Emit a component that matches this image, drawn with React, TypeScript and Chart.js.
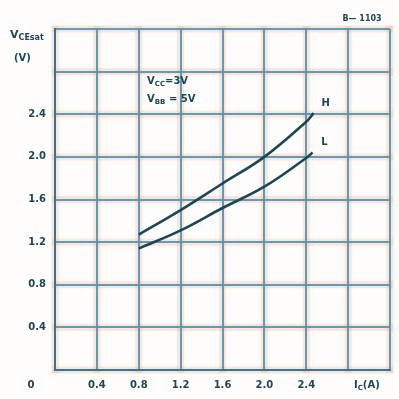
import React, { useEffect, useRef } from "react";
import { Chart, registerables } from "chart.js";

Chart.register(...registerables);

// Axis grid values (both axes run 0 … 3.2 in 0.4 steps)
const xGrid = [0, 0.4, 0.8, 1.2, 1.6, 2.0, 2.4, 2.8, 3.2];
const yGrid = [0, 0.4, 0.8, 1.2, 1.6, 2.0, 2.4, 2.8, 3.2];
const xLabeled = [0.4, 0.8, 1.2, 1.6, 2.0, 2.4];
const yLabeled = [0.4, 0.8, 1.2, 1.6, 2.0, 2.4];

// Collector current Ic (A) and saturation voltage VCE(sat) (V)
const icH = [0.8, 1.2, 1.6, 2.0, 2.4, 2.47];
const vceH = [1.27, 1.5, 1.75, 2.0, 2.33, 2.41];
const icL = [0.8, 1.2, 1.6, 2.0, 2.4, 2.46];
const vceL = [1.14, 1.31, 1.52, 1.72, 1.99, 2.04];
const seriesNames = ["H", "L"];

const INK = "#1d4654";
const GRID = "rgba(78,150,178,0.9)";
const HALO = "rgba(244,165,135,0.28)";
const FONT = "'DejaVu Sans', sans-serif";

const haloPlugin = {
  id: "gridHalo",
  beforeDraw(chart: any) {
    const { ctx, chartArea, scales } = chart;
    ctx.save();
    ctx.strokeStyle = HALO;
    ctx.lineWidth = 7;
    for (const v of xGrid) {
      const x = scales.x.getPixelForValue(v);
      ctx.beginPath();
      ctx.moveTo(x, chartArea.top - 3);
      ctx.lineTo(x, chartArea.bottom + 3);
      ctx.stroke();
    }
    for (const v of yGrid) {
      const y = scales.y.getPixelForValue(v);
      ctx.beginPath();
      ctx.moveTo(chartArea.left - 3, y);
      ctx.lineTo(chartArea.right + 3, y);
      ctx.stroke();
    }
    ctx.restore();
  },
};

function subText(ctx: CanvasRenderingContext2D, x: number, y: number, main: string, sub: string, rest: string, size: number) {
  ctx.textAlign = "left";
  ctx.font = `bold ${size}px ${FONT}`;
  ctx.fillText(main, x, y);
  let cx = x + ctx.measureText(main).width;
  ctx.font = `bold ${Math.round(size * 0.72)}px ${FONT}`;
  ctx.fillText(sub, cx, y + size * 0.3);
  cx += ctx.measureText(sub).width;
  ctx.font = `bold ${size}px ${FONT}`;
  ctx.fillText(rest, cx, y);
}

const textPlugin = {
  id: "sheetText",
  afterDraw(chart: any) {
    const { ctx, chartArea, scales } = chart;
    ctx.save();
    ctx.fillStyle = INK;
    ctx.textBaseline = "middle";
    // y-axis title
    subText(ctx, 10, 35, "V", "CEsat", "", 11);
    ctx.font = `bold 10px ${FONT}`;
    ctx.fillText("(V)", 14, 58);
    // conditions
    subText(ctx, 147, 81, "V", "CC", "=3V", 10);
    subText(ctx, 147, 99, "V", "BB", " = 5V", 10);
    // x-axis unit
    subText(ctx, 354, chartArea.bottom + 15, "I", "C", "(A)", 10);
    // figure number and origin
    ctx.textAlign = "center";
    ctx.font = `bold 8px ${FONT}`;
    ctx.fillText("B\u2014 1103", 362, 19);
    ctx.font = `bold 10px ${FONT}`;
    ctx.fillText("0", 31, chartArea.bottom + 15);
    // curve names beside the ends of the curves
    chart.data.datasets.forEach((ds: any, i: number) => {
      const last = ds.data[ds.data.length - 1];
      const px = scales.x.getPixelForValue(last.x);
      const py = scales.y.getPixelForValue(last.y);
      ctx.fillText(seriesNames[i], px + 12, py - 10);
    });
    ctx.restore();
  },
};

export default function App() {
  const ref = useRef<HTMLCanvasElement | null>(null);

  useEffect(() => {
    document.body.style.margin = "0";
    const canvas = ref.current;
    if (!canvas) return;
    const mk = (xs: number[], ys: number[]) => xs.map((x, i) => ({ x, y: ys[i] }));
    const axis = (ticks: number[], labeled: number[]) => ({
      type: "linear" as const,
      min: 0,
      max: 3.2,
      afterBuildTicks: (s: any) => {
        s.ticks = ticks.map((v) => ({ value: v }));
      },
      grid: { color: GRID, lineWidth: 2, drawTicks: false },
      border: { display: true, color: "rgba(50,120,145,1)", width: 2 },
      ticks: {
        autoSkip: false,
        color: INK,
        font: { family: FONT, size: 10, weight: "bold" as const },
        callback: (v: any) => {
          const n = Math.round(Number(v) * 10) / 10;
          return labeled.includes(n) ? n.toFixed(1) : "";
        },
      },
    });
    const xAxis: any = axis(xGrid, xLabeled);
    xAxis.ticks.padding = 9;
    xAxis.ticks.maxRotation = 0;
    xAxis.afterFit = (s: any) => {
      s.height = 29;
    };
    const yAxis: any = axis(yGrid, yLabeled);
    yAxis.ticks.padding = 9;
    yAxis.afterFit = (s: any) => {
      s.width = 55;
    };

    const chart = new Chart(canvas, {
      type: "line",
      data: {
        datasets: [
          { label: seriesNames[0], data: mk(icH, vceH), borderColor: INK, borderWidth: 2.6, pointRadius: 0, tension: 0.4, fill: false },
          { label: seriesNames[1], data: mk(icL, vceL), borderColor: INK, borderWidth: 2.6, pointRadius: 0, tension: 0.4, fill: false },
        ],
      },
      options: {
        responsive: false,
        animation: false,
        devicePixelRatio: 1,
        layout: { padding: { top: 29, right: 2, left: 0, bottom: 0 } },
        plugins: { legend: { display: false }, tooltip: { enabled: false } },
        scales: { x: xAxis, y: yAxis },
      },
      plugins: [haloPlugin, textPlugin],
    });
    return () => chart.destroy();
  }, []);

  return (
    <canvas
      ref={ref}
      width={399}
      height={399}
      style={{ position: "absolute", left: 0, top: 0, width: 399, height: 399, background: "#fffdfc" }}
    />
  );
}
